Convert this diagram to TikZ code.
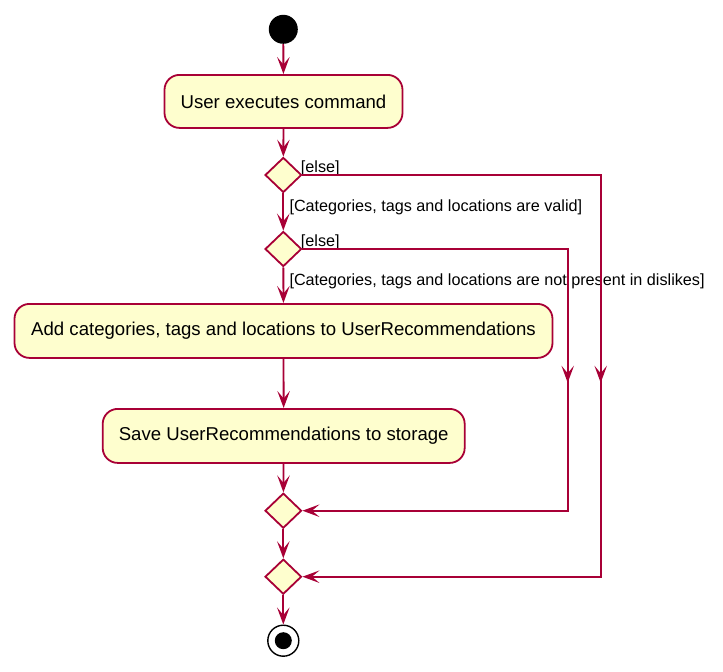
\documentclass[tikz,border=0pt]{standalone}
\usepackage{fontspec}
\setmainfont{Liberation Sans}
\usetikzlibrary{arrows.meta,shapes.geometric,decorations.markings}
\definecolor{umlborder}{HTML}{A80036}
\definecolor{umlfill}{HTML}{FEFECE}
\begin{document}
\begin{tikzpicture}[x=1pt,y=-1pt,
  >={Stealth[length=17pt,width=12.5pt,inset=7.5pt]},
  flow/.style={draw=umlborder,line width=1.8pt,->},
  act/.style={draw=umlborder,fill=umlfill,line width=1.8pt,rounded corners=15pt,minimum height=53pt,inner sep=0pt,font=\fontsize{18.6}{22}\selectfont},
  choice/.style={diamond,draw=umlborder,fill=umlfill,line width=1.8pt,minimum width=36.5pt,minimum height=35pt,inner sep=0pt},
  guard/.style={anchor=base west,inner sep=0pt,font=\fontsize{16.2}{19}\selectfont},
  midarrow/.style={postaction={decorate},decoration={markings,mark=at position #1 with {\arrow{>}}}},
  startnode/.style={circle,fill=black,minimum size=29pt,inner sep=0pt},
  endouter/.style={circle,draw=black,line width=1.4pt,fill=white,minimum size=31pt,inner sep=0pt},
  endinner/.style={circle,fill=black,minimum size=17pt,inner sep=0pt}
]
\useasboundingbox (0,0) rectangle (723,672);

\node[startnode] (start) at (283.3,29.3) {};
\node[act,minimum width=238pt] (a1) at (283.5,101.4) {User executes command};
\node[choice] (d1) at (283.3,175) {};
\node[choice] (d2) at (283.3,249) {};
\node[act,minimum width=538pt,minimum height=54pt] (a2) at (283.5,330.9) {Add categories, tags and locations to UserRecommendations};
\node[act,minimum width=362pt,minimum height=54pt] (a3) at (283.7,435.9) {Save UserRecommendations to storage};
\node[choice] (d3) at (283.3,510.7) {};
\node[choice] (d4) at (283.3,576.7) {};
\node[endouter] (end) at (283.3,640.7) {};
\node[endinner] (endin) at (end.center) {};

\node[guard] (g1) at (300.7,172.7) {[else]};
\node[guard] (g2) at (289.3,211.7) {[Categories, tags and locations are valid]};
\node[guard] (g3) at (300.7,246.7) {[else]};
\node[guard] (g4) at (289.3,285) {[Categories, tags and locations are not present in dislikes]};

\draw[flow] (start) -- (a1);
\draw[flow] (a1) -- (d1);
\draw[flow] (d1) -- (d2);
\draw[flow] (d2) -- (a2);
\draw[flow] (a2) -- (a3);
\draw[flow] (a3) -- (d3);
\draw[flow] (d3) -- (d4);
\draw[flow] (d4) -- (end);

\coordinate (c1) at (600.7,175);
\coordinate (c2) at (600.7,576.7);
\coordinate (c3) at (567.7,249);
\coordinate (c4) at (567.7,510.7);
\draw[flow,midarrow=506pt] (d1.east) -- (c1) -- (c2) -- (d4.east);
\draw[flow,midarrow=399pt] (d2.east) -- (c3) -- (c4) -- (d3.east);
\end{tikzpicture}
\end{document}
